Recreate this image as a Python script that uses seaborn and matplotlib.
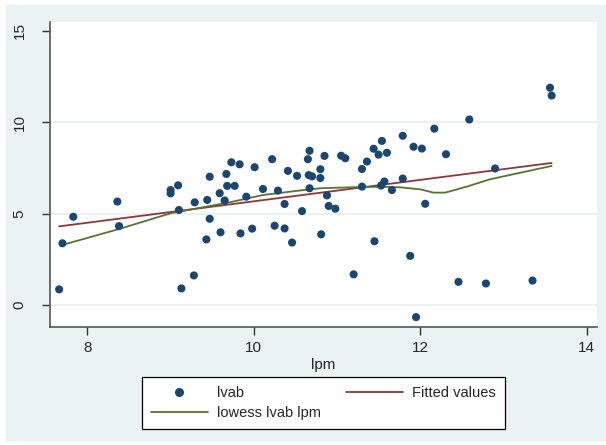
import numpy as np
import pandas as pd
import seaborn as sns
import matplotlib.pyplot as plt
from matplotlib.patches import Rectangle
from matplotlib.lines import Line2D

# scatter data
lpm = [7.66, 7.70, 7.83, 8.36, 8.38, 9.00, 9.00, 9.09, 9.10, 9.13,
       9.28, 9.29, 9.43, 9.44, 9.47, 9.47, 9.59, 9.60, 9.65, 9.67,
       9.68, 9.73, 9.77, 9.83, 9.84, 9.91, 9.98, 10.01, 10.11, 10.22,
       10.25, 10.29, 10.37, 10.37, 10.41, 10.46, 10.52, 10.58, 10.65, 10.67,
       10.66, 10.67, 10.70, 10.80, 10.80, 10.81, 10.85, 10.88, 10.90, 10.98,
       11.05, 11.10, 11.20, 11.30, 11.30, 11.36, 11.44, 11.45, 11.50, 11.54,
       11.53, 11.57, 11.60, 11.66, 11.79, 11.79, 11.88, 11.92, 11.95, 12.02,
       12.06, 12.17, 12.31, 12.46, 12.59, 12.79, 12.90, 13.35, 13.56, 13.58]
lvab = [0.86, 3.38, 4.83, 5.66, 4.32, 6.29, 6.11, 6.55, 5.20, 0.91,
        1.62, 5.62, 3.59, 5.75, 7.02, 4.72, 6.12, 3.98, 5.72, 7.17,
        6.52, 7.81, 6.52, 7.70, 3.92, 5.93, 4.18, 7.54, 6.35, 7.98,
        4.34, 6.26, 4.19, 5.53, 7.34, 3.42, 7.07, 5.14, 7.98, 8.44,
        7.11, 6.39, 7.04, 7.43, 6.95, 3.87, 8.16, 6.00, 5.42, 5.27,
        8.17, 8.03, 1.68, 7.44, 6.48, 7.85, 8.55, 3.49, 8.23, 8.98,
        6.54, 6.76, 8.33, 6.29, 9.26, 6.92, 2.69, 8.66, -0.66, 8.56,
        5.54, 9.65, 8.25, 1.27, 10.15, 1.18, 7.47, 1.34, 11.89, 11.46]

# lowess curve
low_x = [7.67, 8.38, 9.00, 9.71, 10.11, 10.56, 10.80, 11.32, 11.56, 11.76,
         12.00, 12.16, 12.30, 12.56, 12.84, 13.58]
low_y = [3.25, 4.16, 5.02, 5.62, 6.02, 6.27, 6.39, 6.46, 6.47, 6.44,
         6.33, 6.15, 6.15, 6.48, 6.88, 7.61]

navy = "#1A476F"
maroon = "#90353B"
green = "#55752F"
bg = "#EAF2F3"

sns.set_theme(style="white")
plt.rcParams["font.family"] = ["Liberation Sans", "DejaVu Sans"]

df = pd.DataFrame({"lpm": lpm, "lvab": lvab})
df_low = pd.DataFrame({"lpm": low_x, "lvab": low_y})

fig = plt.figure(figsize=(6.06, 4.45), dpi=100, facecolor="white")
fig.patches.append(Rectangle((6 / 606, 5 / 445), 600 / 606, 435 / 445,
                             transform=fig.transFigure, color=bg, zorder=-10))
ax = fig.add_axes([50.3 / 606, 1 - 327 / 445, 546.7 / 606, 305.3 / 445])
ax.set_facecolor("white")

for g in [0, 5, 10]:
    ax.axhline(g, color=bg, lw=1.6, zorder=0)

sns.scatterplot(data=df, x="lpm", y="lvab", ax=ax, color=navy, s=34,
                edgecolor="none", zorder=3)
sns.regplot(data=df, x="lpm", y="lvab", ax=ax, scatter=False, ci=None,
            color=maroon, line_kws={"lw": 1.3, "zorder": 2})
sns.lineplot(data=df_low, x="lpm", y="lvab", ax=ax, color=green, lw=1.3,
             zorder=2, sort=False)

ax.set_xlim(7.554, 14.125)
ax.set_ylim(-1.2, 15.5)
ax.set_xticks([8, 10, 12, 14])
ax.set_yticks([0, 5, 10, 15])
ax.set_xlabel("lpm", fontsize=11, labelpad=2)
ax.set_ylabel("")
ax.tick_params(axis="both", which="both", direction="out", length=6,
               width=1, color="#333333", labelsize=11, left=True, bottom=True)
ax.tick_params(axis="x", pad=4)
ax.tick_params(axis="y", pad=11)
for lab in ax.get_yticklabels():
    lab.set_rotation(90)
    lab.set_va("center")

for side in ["top", "right"]:
    ax.spines[side].set_visible(False)
for side in ["left", "bottom"]:
    ax.spines[side].set_color("#555555")
    ax.spines[side].set_linewidth(1.2)

handles = [
    Line2D([], [], ls="none", marker="o", ms=6.5, color=navy, mec="none"),
    Line2D([], [], color=green, lw=1.3),
    Line2D([], [], color=maroon, lw=1.3),
]
labels = ["lvab", "lowess lvab lpm", "Fitted values"]
leg = fig.legend(handles, labels, ncol=2, loc="upper center",
                 bbox_to_anchor=(323.4 / 606, 1 - 377.3 / 445),
                 bbox_transform=fig.transFigure, fontsize=10.5,
                 handlelength=3.9, handletextpad=0.68, columnspacing=1.66,
                 labelspacing=0.44, borderpad=0.6, borderaxespad=0,
                 fancybox=False, framealpha=1, edgecolor="black")
leg.get_frame().set_linewidth(0.9)

fig.savefig("out.png", dpi=100, facecolor="white")
